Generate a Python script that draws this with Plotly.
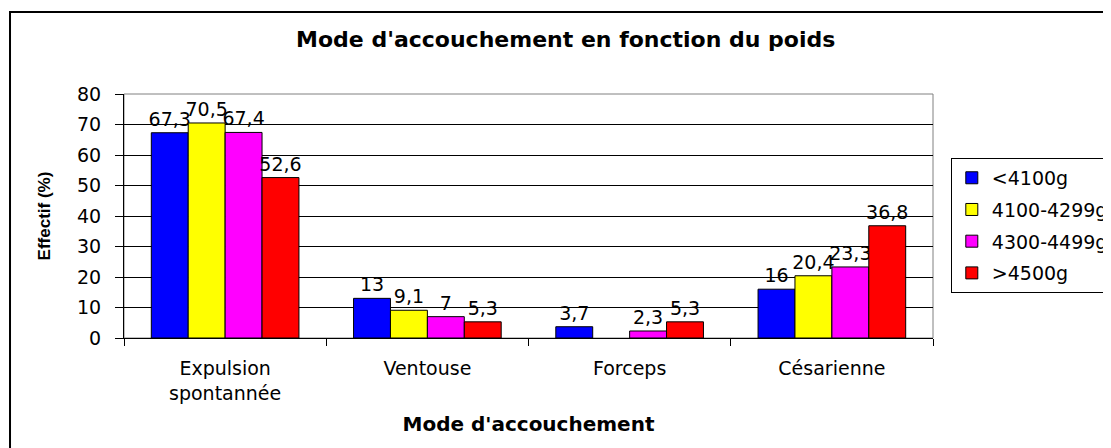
import plotly.graph_objects as go

# catégories et séries (valeurs en %)
categories = ["Expulsion<br>spontannée", "Ventouse", "Forceps", "Césarienne"]
series_names = ["<4100g", "4100-4299g", "4300-4499g", ">4500g"]
v_lt4100 = [67.3, 13, 3.7, 16]
v_4100_4299 = [70.5, 9.1, None, 20.4]
v_4300_4499 = [67.4, 7, 2.3, 23.3]
v_gt4500 = [52.6, 5.3, 5.3, 36.8]
y_ticks = [0, 10, 20, 30, 40, 50, 60, 70, 80]

colors = ["#0000FF", "#FFFF00", "#FF00FF", "#FF0000"]
values = [v_lt4100, v_4100_4299, v_4300_4499, v_gt4500]

FONT = "DejaVu Sans, Arial, sans-serif"
FONT_Y = "Liberation Sans, Arial, sans-serif"

fig = go.Figure()
for name, vals, col in zip(series_names, values, colors):
    fig.add_trace(go.Bar(
        x=categories, y=vals, name=name,
        marker=dict(color=col, line=dict(color="black", width=1)),
        text=[None if v is None else f"{v:g}".replace(".", ",") for v in vals],
        textposition="outside",
        constraintext="none",
        textfont=dict(size=19, color="black", family=FONT),
        cliponaxis=False,
        legendgroup=name,
    ))

# cadre de la zone de tracé (gris) et cadre extérieur (noir)
fig.add_shape(type="rect", xref="paper", yref="paper", x0=0, y0=0, x1=1, y1=1,
              line=dict(color="#808080", width=1), layer="below")
fig.add_shape(type="rect", xref="paper", yref="paper",
              x0=-0.1409, y0=-0.47, x1=1.25, y1=1.336,
              line=dict(color="black", width=2))

# la page ajoute une marge de 8 px : marges réduites d'autant
fig.update_layout(
    width=1111, height=448,
    margin=dict(l=116, r=186, t=86, b=118, autoexpand=False),
    paper_bgcolor="white", plot_bgcolor="white",
    font=dict(family=FONT, size=19, color="black"),
    barmode="group", bargap=0.27, bargroupgap=0,
    separators=", ",
    title=dict(text="<b>Mode d'accouchement en fonction du poids</b>",
               x=0.546, xref="paper", xanchor="center",
               y=0.931, yanchor="middle",
               font=dict(size=22, family=FONT, color="black")),
    legend=dict(x=1.022, y=0.738, xanchor="left", yanchor="top",
                bordercolor="black", borderwidth=1, bgcolor="white",
                font=dict(size=19, family=FONT), tracegroupgap=4,
                traceorder="grouped", itemwidth=30),
    showlegend=True,
)

fig.update_xaxes(
    automargin=False,
    showline=True, linecolor="black", linewidth=1,
    ticks="outside", tickson="boundaries", ticklen=7, tickcolor="black",
    ticklabelstandoff=13,
    tickfont=dict(size=19, family=FONT),
    title=dict(text="<b>Mode d'accouchement</b>", standoff=14,
               font=dict(size=20, family=FONT)),
)
fig.update_yaxes(
    automargin=False,
    range=[0, 80], tickvals=y_ticks,
    showline=True, linecolor="black", linewidth=1,
    ticks="outside", ticklen=8, tickcolor="black",
    ticklabelstandoff=10,
    showgrid=True, gridcolor="black", gridwidth=1,
    zeroline=False,
    tickfont=dict(size=19, family=FONT),
    title=dict(text="<b>Effectif (%)</b>", standoff=22,
               font=dict(size=17, family=FONT_Y)),
)

fig.write_html("out.html")
